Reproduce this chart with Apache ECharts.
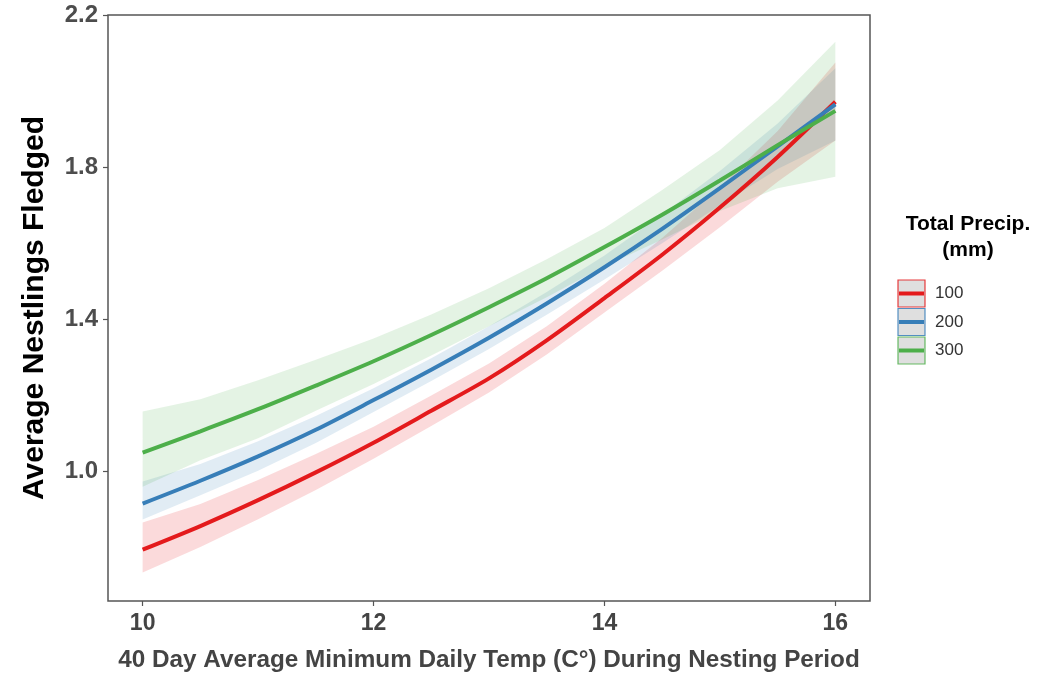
<!DOCTYPE html>
<html>
<head>
<meta charset="utf-8">
<script src="https://cdn.jsdelivr.net/npm/echarts@6/dist/echarts.min.js"></script>
<style>
  html, body { margin: 0; padding: 0; background: #fff; }
  #chart { width: 1042px; height: 676px; }
</style>
</head>
<body>
<div id="chart"></div>
<script>
// x values (40 day avg min daily temp)
const temps = [10, 10.5, 11, 11.5, 12, 12.5, 13, 13.5, 14, 14.5, 15, 15.5, 16];

// fitted means per precipitation level
const fit100 = [0.795, 0.857, 0.925, 0.998, 1.076, 1.160, 1.245, 1.345, 1.456, 1.570, 1.694, 1.827, 1.972];
const fit200 = [0.916, 0.976, 1.040, 1.110, 1.188, 1.268, 1.352, 1.442, 1.537, 1.638, 1.745, 1.855, 1.965];
const fit300 = [1.050, 1.106, 1.164, 1.226, 1.290, 1.359, 1.432, 1.508, 1.590, 1.675, 1.765, 1.858, 1.948];

// confidence ribbons
const lo100 = [0.735, 0.802, 0.875, 0.952, 1.034, 1.120, 1.208, 1.308, 1.418, 1.528, 1.642, 1.762, 1.870];
const hi100 = [0.866, 0.915, 0.978, 1.046, 1.118, 1.200, 1.284, 1.382, 1.494, 1.614, 1.748, 1.895, 2.075];
const lo200 = [0.874, 0.938, 1.002, 1.075, 1.157, 1.238, 1.322, 1.412, 1.505, 1.600, 1.700, 1.795, 1.870];
const hi200 = [0.974, 1.020, 1.080, 1.146, 1.219, 1.298, 1.382, 1.472, 1.568, 1.676, 1.790, 1.915, 2.060];
const lo300 = [0.960, 1.030, 1.088, 1.160, 1.230, 1.305, 1.382, 1.458, 1.540, 1.610, 1.685, 1.745, 1.775];
const hi300 = [1.158, 1.190, 1.240, 1.294, 1.350, 1.413, 1.482, 1.558, 1.640, 1.740, 1.845, 1.975, 2.130];

const xTicks = [10, 12, 14, 16];
const yTicks = [1.0, 1.4, 1.8, 2.2];
const levels = ['100', '200', '300'];

const colors = ['#E41A1C', '#377EB8', '#4DAF4A'];
const fills = ['rgba(228,26,28,0.16)', 'rgba(55,126,184,0.15)', 'rgba(77,175,74,0.15)'];

const pairs = (ys) => temps.map((t, i) => [t, ys[i]]);

function ribbon(lo, hi, fill) {
  return {
    type: 'custom',
    silent: true,
    data: [[temps[0], lo[0]]],
    renderItem(params, api) {
      const pts = [];
      temps.forEach((t, i) => pts.push(api.coord([t, hi[i]])));
      for (let i = temps.length - 1; i >= 0; i -= 1) pts.push(api.coord([temps[i], lo[i]]));
      return { type: 'polygon', shape: { points: pts }, style: { fill, stroke: null } };
    },
    z: 1,
  };
}

function fitLine(ys, color) {
  return {
    type: 'line',
    data: pairs(ys),
    smooth: 0.3,
    symbol: 'none',
    lineStyle: { color, width: 4 },
    z: 3,
  };
}

/* legend keys drawn as graphic, ggplot style */
const keyTop = 280;
const legendGraphic = [
  {
    type: 'text', x: 968, y: 214,
    style: { text: 'Total Precip.', font: 'bold 21px "Liberation Sans", Arial', fill: '#000', align: 'center' },
  },
  {
    type: 'text', x: 968, y: 240,
    style: { text: '(mm)', font: 'bold 21px "Liberation Sans", Arial', fill: '#000', align: 'center' },
  },
];
levels.forEach((lv, i) => {
  const y = keyTop + i * 28.5;
  legendGraphic.push({
    type: 'rect',
    shape: { x: 898, y, width: 27, height: 27 },
    style: { fill: '#d9d9d9', stroke: colors[i], lineWidth: 1.2, opacity: 0.85 },
  });
  legendGraphic.push({
    type: 'line',
    shape: { x1: 899, y1: y + 13.5, x2: 924, y2: y + 13.5 },
    style: { stroke: colors[i], lineWidth: 4 },
  });
  legendGraphic.push({
    type: 'text', x: 935, y: y + 5,
    style: { text: lv, font: '17px "Liberation Sans", Arial', fill: '#333' },
  });
});

const chart = echarts.init(document.getElementById('chart'), null, { renderer: 'canvas' });

chart.setOption({
  animation: false,
  backgroundColor: '#fff',
  grid: {
    left: 108, top: 15, right: 172, bottom: 75,
    outerBoundsMode: 'none',
    show: true, borderColor: '#555', borderWidth: 1.5, backgroundColor: 'transparent',
  },
  xAxis: {
    type: 'value',
    min: 9.7,
    max: 16.3,
    name: '40 Day Average Minimum Daily Temp (C°) During Nesting Period',
    nameLocation: 'middle',
    nameGap: 47,
    nameTextStyle: { fontFamily: '"Liberation Sans", Arial', fontWeight: 'bold', fontSize: 24.3, color: '#444' },
    axisLine: { show: false },
    axisTick: { show: true, length: 5, customValues: xTicks, lineStyle: { color: '#555', width: 1.2 } },
    axisLabel: {
      customValues: xTicks,
      margin: 11,
      fontFamily: '"Liberation Sans", Arial', fontWeight: 'bold', fontSize: 23, color: '#444',
    },
    splitLine: { show: false },
  },
  yAxis: {
    type: 'value',
    min: 0.66,
    max: 2.2,
    name: 'Average Nestlings Fledged',
    nameLocation: 'middle',
    nameGap: 58,
    nameRotate: 90,
    nameTextStyle: { fontFamily: '"Liberation Sans", Arial', fontWeight: 'bold', fontSize: 30, color: '#000' },
    axisLine: { show: false },
    axisTick: { show: true, length: 5, customValues: yTicks, lineStyle: { color: '#555', width: 1.2 } },
    axisLabel: {
      customValues: yTicks,
      margin: 10,
      formatter: (v) => v.toFixed(1),
      fontFamily: '"Liberation Sans", Arial', fontWeight: 'bold', fontSize: 24, color: '#4d4d4d',
    },
    splitLine: { show: false },
  },
  series: [
    ribbon(lo100, hi100, fills[0]),
    ribbon(lo200, hi200, fills[1]),
    ribbon(lo300, hi300, fills[2]),
    fitLine(fit100, colors[0]),
    fitLine(fit200, colors[1]),
    fitLine(fit300, colors[2]),
  ],
  graphic: legendGraphic,
});
</script>
</body>
</html>
